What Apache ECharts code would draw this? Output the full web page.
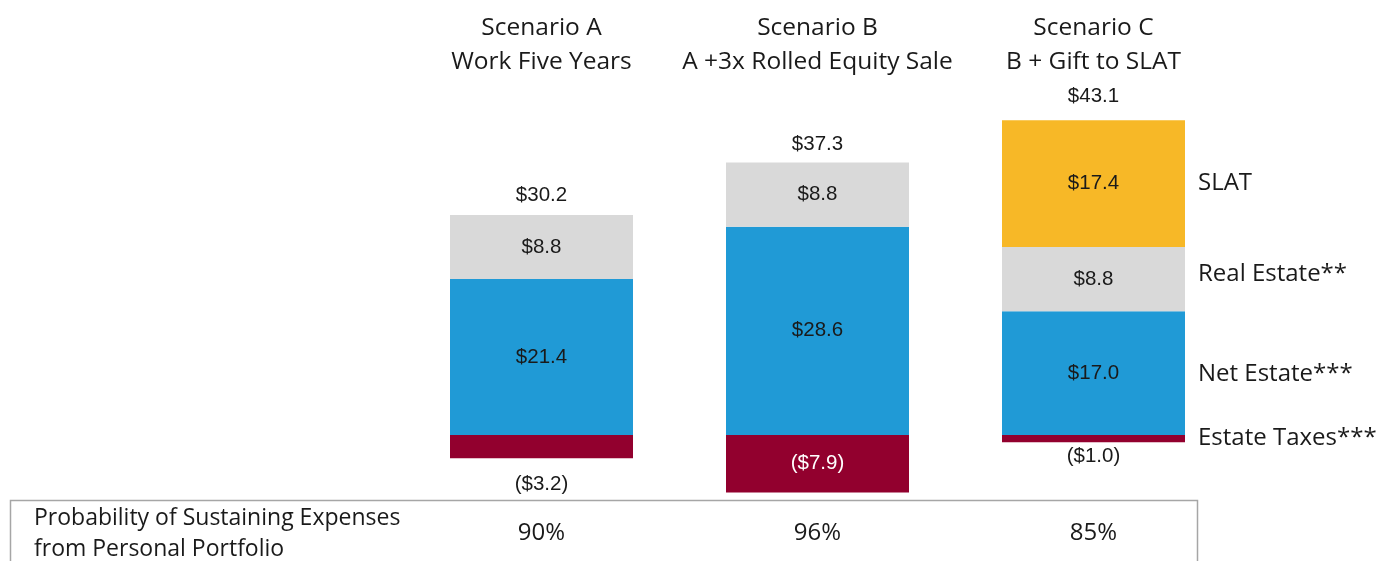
<!DOCTYPE html>
<html>
<head>
<meta charset="utf-8">
<script src="https://cdn.jsdelivr.net/npm/echarts@6/dist/echarts.min.js"></script>
<style>
  html, body { margin: 0; padding: 0; background: #fff; }
  #myChart { width: 1384px; height: 561px; }
</style>
</head>
<body>
<div id="myChart"></div>
<script>
// scenario titles (top) and probability row (bottom)
var scenarios = ['Scenario A\nWork Five Years', 'Scenario B\nA +3x Rolled Equity Sale', 'Scenario C\nB + Gift to SLAT'];
var probability = ['90%', '96%', '85%'];
var rowTitle = 'Probability of Sustaining Expenses\nfrom Personal Portfolio';

// stacked segments, $M
var estateTaxes = [-3.2, -7.9, -1.0];
var netEstate = [21.4, 28.6, 17.0];
var realEstate = [8.8, 8.8, 8.8];
var slat = [null, null, 17.4];
var totals = [30.2, 37.3, 43.1];

// names shown to the right of scenario C
var sideNames = ['Estate Taxes***', 'Net Estate***', 'Real Estate**', 'SLAT'];

var colors = {
    tax: '#92002e',
    net: '#209ad6',
    real: '#d9d9d9',
    slat: '#f7b827'
};

var txt = '#1a1a1a';
var numFont = 'Liberation Sans';
var wordFont = 'Open Sans';
var numSize = 20.5;

function money(p) {
    var v = p.value;
    if (v < 0) return '($' + Math.abs(v).toFixed(1) + ')';
    return '$' + v.toFixed(1);
}

var myChart = echarts.init(document.getElementById('myChart'));

var barW = 183;
var series = [];

// main stack
series.push({
    name: 'Estate Taxes', type: 'bar', stack: 'main', barWidth: barW, barGap: '-100%',
    itemStyle: { color: colors.tax },
    label: { show: true, formatter: money, fontFamily: numFont, fontSize: numSize, color: txt },
    data: [
        { value: estateTaxes[0], label: { position: 'bottom', distance: 16 } },
        { value: estateTaxes[1], label: { position: 'inside', color: '#fff' } },
        { value: estateTaxes[2], label: { position: 'bottom', distance: 4 } }
    ]
});
series.push({
    name: 'Net Estate', type: 'bar', stack: 'main', barWidth: barW, barGap: '-100%',
    itemStyle: { color: colors.net },
    label: { show: true, position: 'inside', formatter: money, fontFamily: numFont, fontSize: numSize, color: txt },
    data: netEstate
});
series.push({
    name: 'Real Estate', type: 'bar', stack: 'main', barWidth: barW, barGap: '-100%',
    itemStyle: { color: colors.real },
    label: { show: true, position: 'inside', formatter: money, fontFamily: numFont, fontSize: numSize, color: txt },
    data: realEstate
});
series.push({
    name: 'SLAT', type: 'bar', stack: 'main', barWidth: barW, barGap: '-100%',
    itemStyle: { color: colors.slat },
    label: { show: true, position: 'inside', formatter: money, fontFamily: numFont, fontSize: numSize, color: txt },
    data: slat
});

// invisible bars carrying the total labels
series.push({
    name: 'Total', type: 'bar', stack: 'total', barWidth: barW, barGap: '-100%', silent: true,
    itemStyle: { color: 'rgba(0,0,0,0)' },
    label: { show: true, position: 'top', formatter: money, fontFamily: numFont, fontSize: numSize, color: txt },
    data: [
        { value: totals[0], label: { distance: 9 } },
        { value: totals[1], label: { distance: 8 } },
        { value: totals[2], label: { distance: 14 } }
    ],
    z: 1
});

// invisible bars on scenario C carrying the side names
var sideVals = [estateTaxes[2], netEstate[2], realEstate[2], slat[2]];
var sideOffsets = [[0, 0], [0, 1], [0, -5], [0, -1]];
sideVals.forEach(function (v, i) {
    series.push({
        name: sideNames[i], type: 'bar', stack: 'side', barWidth: barW, barGap: '-100%', silent: true,
        itemStyle: { color: 'rgba(0,0,0,0)' },
        label: {
            show: true, position: 'right', distance: 13, offset: sideOffsets[i],
            formatter: sideNames[i], fontFamily: wordFont, fontSize: 24, color: txt
        },
        data: [null, null, v],
        z: 1
    });
});

myChart.setOption({
    animation: false,
    grid: { left: 403.5, width: 828, top: 70.75, height: 437.1 },
    xAxis: [
        {
            type: 'category', position: 'top', data: scenarios,
            axisLine: { show: false }, axisTick: { show: false },
            axisLabel: { fontFamily: wordFont, fontSize: 24.5, lineHeight: 34, color: txt, margin: -8, interval: 0 }
        },
        {
            type: 'category', position: 'bottom', data: probability,
            axisLine: { show: false }, axisTick: { show: false },
            axisLabel: { fontFamily: wordFont, fontSize: 24, color: txt, margin: 13, interval: 0 }
        }
    ],
    yAxis: { type: 'value', min: -10, max: 50, show: false, splitLine: { show: false } },
    graphic: [
        {
            type: 'rect', silent: true,
            shape: { x: 10.5, y: 500.5, width: 1187, height: 100 },
            style: { fill: 'none', stroke: '#a6a6a6', lineWidth: 1.5 }
        },
        {
            type: 'text', left: 34, top: 503,
            style: { text: rowTitle, font: '23px "Open Sans"', lineHeight: 31, fill: txt }
        }
    ],
    series: series
});
</script>
</body>
</html>
